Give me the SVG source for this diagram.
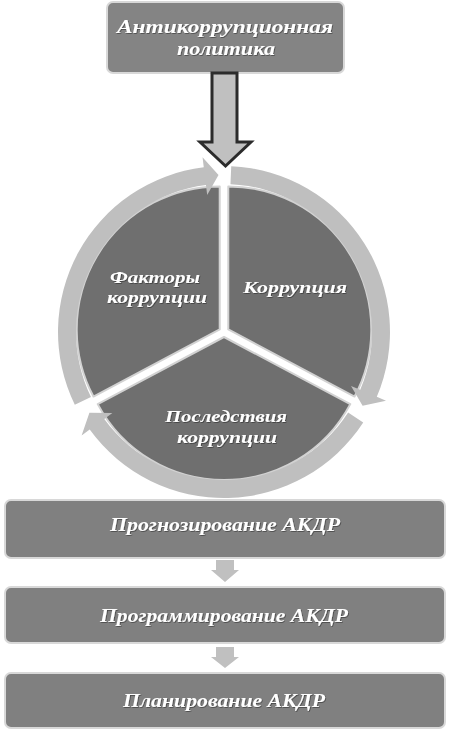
<svg xmlns="http://www.w3.org/2000/svg" width="451" height="731" viewBox="0 0 451 731">
<defs>
<style>
.box{fill:#808080;stroke:#d8d8d8;stroke-width:2}
.top{fill:#848484;stroke:#d8d8d8;stroke-width:2}
.seg{fill:#6f6f6f;stroke:#d2d2d2;stroke-width:2;stroke-linejoin:round}
.ring{fill:#bfbfbf}
.sarrow{fill:#c0c0c0}
.big{fill:#c0c0c0;stroke:#2b2b2b;stroke-width:3;stroke-linejoin:miter}
.t{font-family:"Liberation Serif","Times New Roman",serif;font-style:italic;font-weight:bold;fill:#ffffff;text-anchor:middle}
</style>
<filter id="sh" x="-10%" y="-30%" width="120%" height="160%">
<feDropShadow dx="0.8" dy="0.8" stdDeviation="0.6" flood-color="#000" flood-opacity="0.45"/>
</filter>
</defs>
<rect width="451" height="731" fill="#ffffff"/>

<g id="node-policy">
<rect class="top" x="107" y="2" width="237" height="71" rx="6"/>
<text class="t" filter="url(#sh)" font-size="19" x="225" y="33" textLength="216" lengthAdjust="spacingAndGlyphs">Антикоррупционная</text>
<text class="t" filter="url(#sh)" font-size="19" x="226" y="55" textLength="98" lengthAdjust="spacingAndGlyphs">политика</text>
</g>

<g id="cycle">
<g id="node-corruption">
<path class="seg" transform="translate(4.29,-2.58)" d="M224,332 L224,189 A143,143 0 0 1 350.26,399.13 Z"/>
<text class="t" filter="url(#sh)" font-size="17" x="295" y="293" textLength="104" lengthAdjust="spacingAndGlyphs">Коррупция</text>
</g>
<g id="node-consequences">
<path class="seg" transform="translate(0,5)" d="M224,332 L350.26,399.13 A143,143 0 0 1 97.74,399.13 Z"/>
<text class="t" filter="url(#sh)" font-size="17" x="226" y="422" textLength="122" lengthAdjust="spacingAndGlyphs">Последствия</text>
<text class="t" filter="url(#sh)" font-size="17" x="227" y="443" textLength="100" lengthAdjust="spacingAndGlyphs">коррупции</text>
</g>
<g id="node-factors">
<path class="seg" transform="translate(-4.29,-2.58)" d="M224,332 L97.74,399.13 A143,143 0 0 1 224,189 Z"/>
<text class="t" filter="url(#sh)" font-size="17" x="155" y="283" textLength="90" lengthAdjust="spacingAndGlyphs">Факторы</text>
<text class="t" filter="url(#sh)" font-size="17" x="157" y="303" textLength="100" lengthAdjust="spacingAndGlyphs">коррупции</text>
</g>
</g>

<g id="connectors">
<path class="ring" d="M231.24,166.16 A166,166 0 0 1 376.80,396.86 L386.01,400.77 L362.62,405.71 L351.03,385.92 L360.23,389.83 A148,148 0 0 0 230.46,184.14 Z"/>
<path class="ring" d="M363.22,422.41 A166,166 0 0 1 89.70,429.57 L81.61,435.45 L89.42,412.86 L112.36,413.11 L104.27,418.99 A148,148 0 0 0 348.12,412.61 Z"/>
<path class="ring" d="M74.80,404.77 A166,166 0 0 1 203.77,167.24 L202.55,157.31 L218.52,175.10 L207.18,195.03 L205.96,185.10 A148,148 0 0 0 90.98,396.88 Z"/>
<polygon class="big" points="212,73 237,73 237,142 251,142 225.5,166 200,142 212,142"/>
<polygon class="sarrow" points="216,560 234,560 234,570 239,570 225,582 211,570 216,570"/>
<polygon class="sarrow" points="216,647 234,647 234,657 239,657 225,668 211,657 216,657"/>
</g>

<g id="node-forecast">
<rect class="box" x="5" y="500" width="440" height="58" rx="6"/>
<text class="t" filter="url(#sh)" font-size="18" x="225" y="531" textLength="230" lengthAdjust="spacingAndGlyphs">Прогнозирование АКДР</text>
</g>
<g id="node-programming">
<rect class="box" x="5" y="587" width="440" height="56" rx="6"/>
<text class="t" filter="url(#sh)" font-size="18" x="224" y="622" textLength="248" lengthAdjust="spacingAndGlyphs">Программирование АКДР</text>
</g>
<g id="node-planning">
<rect class="box" x="5" y="673" width="440" height="55" rx="6"/>
<text class="t" filter="url(#sh)" font-size="18" x="224" y="707" textLength="202" lengthAdjust="spacingAndGlyphs">Планирование АКДР</text>
</g>
</svg>
